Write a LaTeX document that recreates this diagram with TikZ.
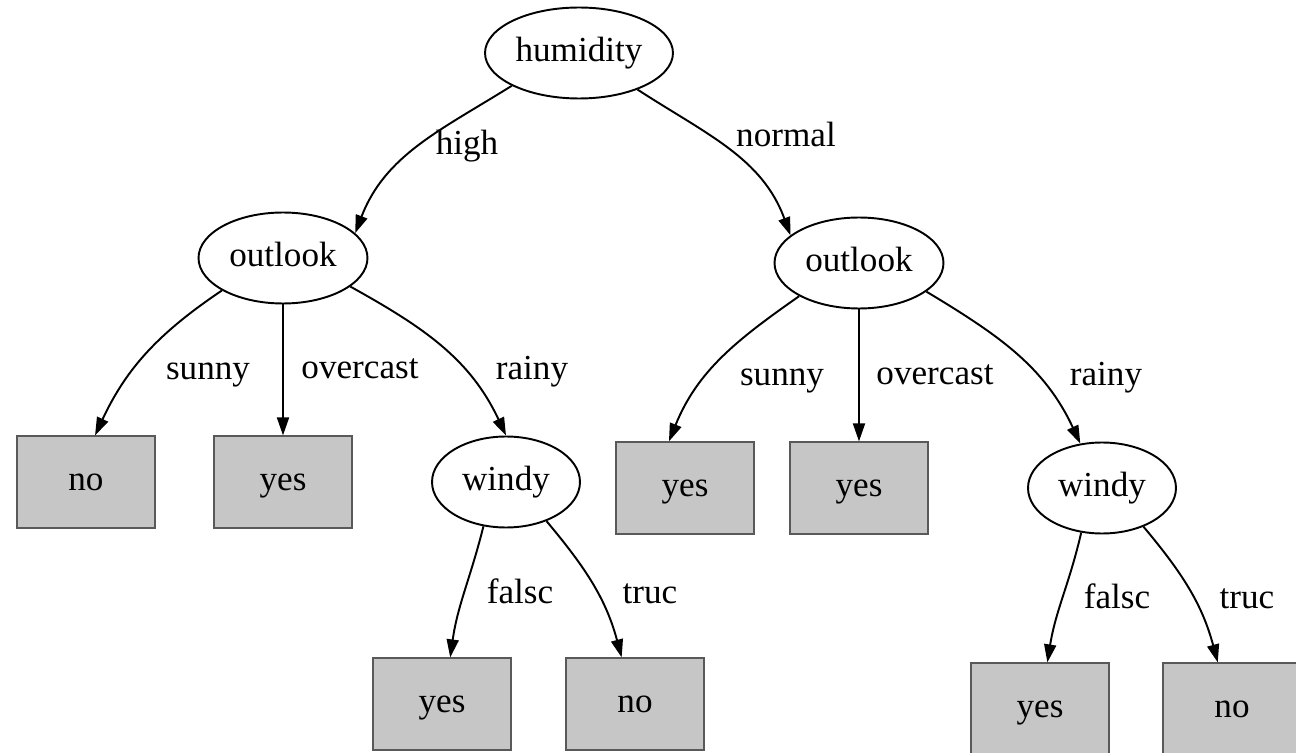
\documentclass[tikz,border=0pt]{standalone}
\usepackage{fontspec}
\setmainfont{Liberation Serif}
\usepackage{tikz}
\usetikzlibrary{arrows.meta,shapes,positioning,calc}

\begin{document}
\begin{tikzpicture}[x=0.02cm,y=0.02cm,>={Triangle[length=0.36cm,width=0.24cm]},
every node/.style={font=\fontsize{20}{24}\selectfont},
attr/.style={ellipse,draw,line width=1.1pt,minimum width=3.38cm,minimum height=1.82cm,inner sep=0pt,text height=14pt,text depth=4pt},
leaf/.style={rectangle,fill=gray!45,draw=gray!70!black,line width=0.7pt,minimum width=2.76cm,minimum height=1.84cm,inner sep=0pt,text height=14pt,text depth=4pt},
branch/.style={->,line width=1.1pt},
lbl/.style={anchor=base,inner sep=0pt}]
\useasboundingbox (0,0) rectangle (1296,-753);
% tests
\node[attr,minimum width=3.76cm] (hum) at (579,-53) {humidity};
\node[attr] (outL) at (283,-258) {outlook};
\node[attr] (outR) at (859,-263) {outlook};
\node[attr,minimum width=2.96cm] (windL) at (506,-482) {windy};
\node[attr,minimum width=2.96cm] (windR) at (1102,-488) {windy};
% leaves
\node[leaf] (noL) at (86,-482) {no};
\node[leaf] (yesL) at (283,-482) {yes};
\node[leaf] (yesLL) at (442,-704) {yes};
\node[leaf] (noLR) at (635,-704) {no};
\node[leaf] (yesR) at (685,-488) {yes};
\node[leaf] (yesRM) at (859,-488) {yes};
\node[leaf] (yesRL) at (1040,-709) {yes};
\node[leaf] (noRR) at (1232,-709) {no};
% branches
\draw[branch] (hum.206) to[out=212,in=69] (outL.19);
\draw[branch] (hum.328) to[out=-33,in=110] (outR.158);
\draw[branch] (outL.208) to[out=214,in=65] (noL.79);
\draw[branch] (outL.south) -- (yesL.north);
\draw[branch] (outL.337) to[out=-29,in=115] (windL.north);
\draw[branch] (windL.243) to[out=256,in=82] (yesLL.80);
\draw[branch] (windL.316) to[out=-50,in=105] (noLR.106);
\draw[branch] (outR.209) to[out=215,in=68] (yesR.109);
\draw[branch] (outR.south) -- (yesRM.north);
\draw[branch] (outR.337) to[out=-31,in=115] (windR.116);
\draw[branch] (windR.245) to[out=257,in=81] (yesRL.81);
\draw[branch] (windR.317) to[out=-50,in=105] (noRR.107);
% labels
\node[lbl] (high) at (467,-155) {high};
\node[lbl] (normal) at (786,-147) {normal};
\node[lbl] (sunL) at (208,-379) {sunny};
\node[lbl] (ovcL) at (360,-378) {overcast};
\node[lbl] (rainL) at (532,-379) {rainy};
\node[lbl] (falL) at (520,-603) {falsc};
\node[lbl] (truL) at (650,-603) {truc};
\node[lbl] (sunR) at (782,-386) {sunny};
\node[lbl] (ovcR) at (935,-385) {overcast};
\node[lbl] (rainR) at (1106,-386) {rainy};
\node[lbl] (falR) at (1117,-608) {falsc};
\node[lbl] (truR) at (1247,-608) {truc};
\end{tikzpicture}
\end{document}
